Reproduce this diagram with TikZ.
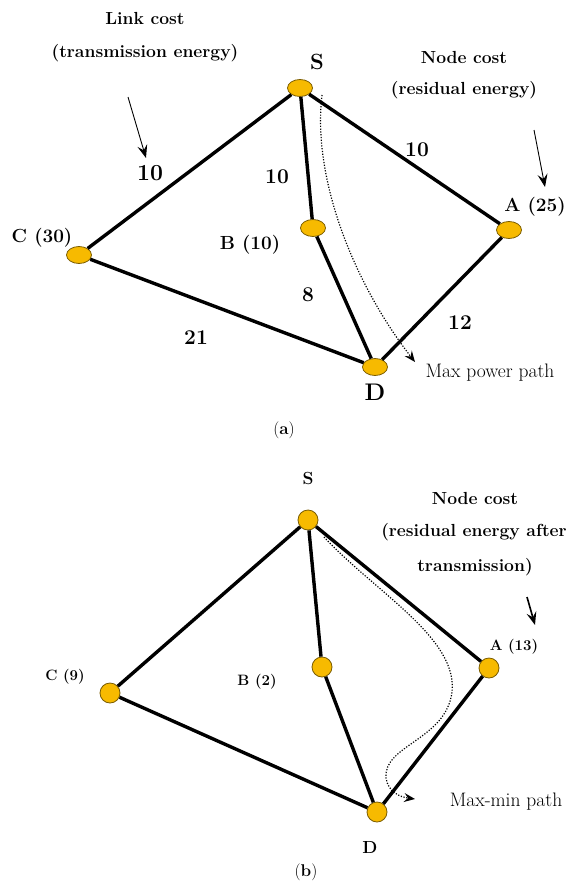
\documentclass[tikz,border=0pt]{standalone}
\usetikzlibrary{arrows.meta,shapes.geometric}
\definecolor{dotfill}{HTML}{F7BA00}
\definecolor{dotedge}{HTML}{7A5C00}
\begin{document}
\begin{tikzpicture}[x=1pt,y=-1pt,
    dot/.style={ellipse,draw=dotedge,fill=dotfill,line width=0.8pt,minimum width=25pt,minimum height=17pt,inner sep=0pt},
    rdot/.style={circle,draw=dotedge,fill=dotfill,line width=0.8pt,minimum size=20pt,inner sep=0pt},
    tag/.style={inner sep=0pt,font=\fontsize{19}{21}\selectfont\bfseries},
    smalltag/.style={inner sep=0pt,font=\fontsize{15}{17}\selectfont\bfseries},
    weight/.style={inner sep=0pt,font=\fontsize{21}{23}\selectfont\bfseries},
    caption/.style={inner sep=0pt,font=\fontsize{17.5}{19}\selectfont\bfseries},
    pathname/.style={inner sep=0pt,font=\fontsize{19.5}{21}\selectfont},
    pointer/.style={line width=0.9pt,-{Stealth[length=13pt,width=10pt,inset=5pt]}},
    maxpath/.style={line width=1.2pt,dash pattern=on 1.2pt off 1.6pt,-{Stealth[length=11pt,width=9pt,inset=4pt]}}]
  \useasboundingbox (0,0) rectangle (568,883);
  \fill[white] (0,0) rectangle (568,883);
  \draw
    (300,88) node[dot] (S1){}
    (509,230) node[dot] (A1){}
    (313,228) node[dot] (B1){}
    (79,255) node[dot] (C1){}
    (375,367) node[dot] (D1){};
  \draw
    (308,520) node[rdot] (S2){}
    (489,668) node[rdot] (A2){}
    (322,667) node[rdot] (B2){}
    (110,693) node[rdot] (C2){}
    (377,812) node[rdot] (D2){};
  \begin{scope}[line width=3.4pt]
    \draw (S1) to (C1);
    \draw (S1) to (B1);
    \draw (S1) to (A1);
    \draw (B1) to (D1);
    \draw (C1) to (D1);
    \draw (A1) to (D1);
    \draw (S2) to (C2);
    \draw (S2) to (B2);
    \draw (S2) to (A2);
    \draw (B2) to (D2);
    \draw (C2) to (D2);
    \draw (A2) to (D2);
  \end{scope}
  \draw
    (317,62) node[tag,font=\fontsize{22}{24}\selectfont\bfseries] (lS1){S}
    (535,207) node[tag] (lA1){A (25)}
    (250,245) node[tag] (lB1){B (10)}
    (42,238) node[tag] (lC1){C (30)}
    (375,392) node[tag,font=\fontsize{24}{26}\selectfont\bfseries] (lD1){D}
    (150,173) node[weight,font=\fontsize{23}{25}\selectfont\bfseries] (wSC){10}
    (277,177) node[weight] (wSB){10}
    (417,150) node[weight] (wSA){10}
    (308,295) node[weight] (wBD){8}
    (196,338) node[weight] (wCD){21}
    (460,323) node[weight] (wAD){12}
    (145,18) node[caption] (link1){Link cost}
    (145,53) node[caption] (link2){(transmission energy)}
    (464,57) node[caption] (cost1){Node cost}
    (464,90) node[caption] (cost2){(residual energy)}
    (490,373) node[pathname] (maxpow){Max power path}
    (284,430) node[caption,font=\fontsize{17}{19}\selectfont] (capa){(\textbf{a})};
  \draw
    (308,478) node[caption] (lS2){S}
    (514,647) node[smalltag] (lA2){A (13)}
    (257,682) node[smalltag] (lB2){B (2)}
    (65,677) node[smalltag] (lC2){C (9)}
    (370,847) node[caption] (lD2){D}
    (475,498) node[caption] (cost3){Node cost}
    (474,532) node[caption] (cost4){(residual energy after}
    (475,567) node[caption] (cost5){transmission)}
    (506,802) node[pathname] (maxmin){Max-min path}
    (306,872) node[caption,font=\fontsize{17}{19}\selectfont] (capb){(\textbf{b})};
  \coordinate (p1) at (128,97);
  \coordinate (q1) at (146,158);
  \coordinate (p2) at (534,130);
  \coordinate (q2) at (545,187);
  \coordinate (p3) at (527,597);
  \coordinate (q3) at (535,625);
  \draw[pointer] (p1) -- (q1);
  \draw[pointer] (p2) -- (q2);
  \draw[pointer,line width=1.6pt] (p3) -- (q3);
  \coordinate (m1) at (322,95);
  \coordinate (m2) at (415,362);
  \coordinate (m3) at (324,537);
  \coordinate (m4) at (415,799);
  \draw[maxpath] (m1) .. controls (312,180) and (355,285) .. (m2);
  \draw[maxpath] (m3) .. controls (375,592) and (458,638) .. (452,692)
    .. controls (446,740) and (383,745) .. (386,778)
    .. controls (388,792) and (400,797) .. (m4);
\end{tikzpicture}
\end{document}
